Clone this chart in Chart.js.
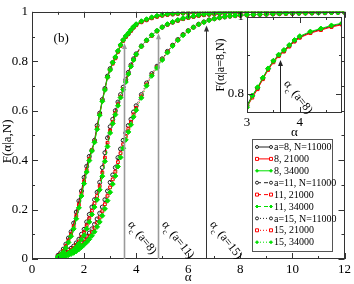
<!DOCTYPE html>
<html>
<head>
<meta charset="utf-8">
<script src="https://cdn.jsdelivr.net/npm/chart.js@4.4.1/dist/chart.umd.min.js"></script>
<style>
  html, body { margin: 0; padding: 0; background: #fff; }
  #wrap { position: relative; width: 354px; height: 284px; }
  #main { position: absolute; left: 0; top: 0; }
  #inset { position: absolute; left: 200px; top: 5px; }
</style>
</head>
<body>
<div id="wrap">
  <canvas id="main" width="354" height="284"></canvas>
  <canvas id="inset" width="148" height="135"></canvas>
</div>
<script>
// alpha grid (shared by all series)
const ALPHA = [
  1.0, 1.1, 1.2, 1.3, 1.4, 1.5, 1.6, 1.7, 1.8, 1.9,
  2.0, 2.1, 2.2, 2.3, 2.4, 2.5, 2.6, 2.7, 2.8, 2.9,
  3.0, 3.1, 3.2, 3.3, 3.4, 3.5, 3.6, 3.7, 3.8, 3.9,
  4.0, 4.2, 4.4, 4.6, 4.8, 5.0, 5.2, 5.4, 5.6, 5.8,
  6.0, 6.2, 6.4, 6.6, 6.8, 7.0, 7.2, 7.4, 7.6, 7.8,
  8.0, 8.25, 8.5, 8.75, 9.0, 9.25, 9.5, 9.75, 10.0,
  10.25, 10.5, 10.75, 11.0, 11.25, 11.5, 11.75, 12.0
];

// a = 8
const F8_11000 = [
  .015, .025, .04, .06, .085, .11, .145, .19, .235, .275,
  .33, .375, .415, .44, .48, .54, .59, .645, .69, .74,
  .77, .795, .815, .84, .865, .885, .90, .912, .925, .938,
  .948, .96, .968, .976, .982, .986, .989, .991, .993, .995,
  .996, .997, .997, .998, .998, .999, .999, .999, .999, 1,
  1, 1, 1, 1, 1, 1, 1, 1, 1,
  1, 1, 1, 1, 1, 1, 1, 1
];
const F8_21000 = [
  .012, .02, .033, .052, .075, .1, .133, .175, .22, .265,
  .315, .36, .405, .44, .475, .53, .585, .64, .685, .735,
  .765, .79, .812, .838, .862, .882, .898, .91, .923, .936,
  .946, .958, .966, .974, .98, .985, .988, .99, .992, .994,
  .995, .996, .997, .997, .998, .998, .999, .999, .999, .999,
  1, 1, 1, 1, 1, 1, 1, 1, 1,
  1, 1, 1, 1, 1, 1, 1, 1
];
const F8_34000 = [
  .01, .017, .028, .045, .067, .092, .122, .163, .207, .255,
  .305, .352, .398, .437, .472, .525, .582, .638, .684, .735,
  .765, .795, .817, .842, .866, .886, .902, .914, .927, .94,
  .95, .962, .97, .978, .984, .988, .991, .993, .995, .996,
  .997, .998, .998, .999, .999, .999, 1, 1, 1, 1,
  1, 1, 1, 1, 1, 1, 1, 1, 1,
  1, 1, 1, 1, 1, 1, 1, 1
];

// a = 11
const F11_11000 = [
  .01, .014, .02, .027, .035, .043, .052, .065, .08, .1,
  .12, .15, .18, .21, .24, .27, .31, .37, .43, .49,
  .535, .565, .6, .635, .665, .695, .725, .755, .785, .81,
  .83, .862, .885, .905, .923, .938, .949, .958, .965, .972,
  .977, .981, .985, .988, .99, .992, .993, .994, .995, .996,
  .997, .997, .998, .998, .998, .999, .999, .999, .999,
  1, 1, 1, 1, 1, 1, 1, 1
];
const F11_21000 = [
  .008, .011, .016, .022, .029, .036, .045, .057, .071, .09,
  .108, .136, .165, .195, .225, .255, .295, .35, .41, .47,
  .52, .555, .59, .625, .657, .688, .718, .749, .78, .805,
  .826, .859, .883, .903, .921, .937, .948, .957, .964, .971,
  .976, .98, .984, .987, .989, .991, .993, .994, .995, .996,
  .996, .997, .997, .998, .998, .998, .999, .999, .999,
  .999, 1, 1, 1, 1, 1, 1, 1
];
const F11_34000 = [
  .006, .009, .013, .018, .024, .03, .038, .049, .062, .079,
  .096, .122, .15, .18, .21, .24, .28, .335, .395, .455,
  .51, .548, .584, .62, .653, .685, .716, .748, .779, .805,
  .827, .86, .885, .905, .923, .938, .95, .959, .967, .974,
  .979, .983, .987, .99, .992, .994, .995, .996, .997, .998,
  .998, .998, .999, .999, .999, .999, 1, 1, 1,
  1, 1, 1, 1, 1, 1, 1, 1
];

// a = 15
const F15_11000 = [
  .005, .008, .012, .018, .025, .031, .038, .046, .055, .067,
  .08, .092, .105, .122, .14, .162, .185, .21, .24, .275,
  .31, .34, .37, .41, .445, .48, .51, .54, .565, .595,
  .62, .665, .712, .75, .78, .81, .84, .865, .888, .908,
  .924, .938, .95, .959, .967, .972, .976, .979, .982, .984,
  .986, .987, .988, .989, .99, .991, .992, .993, .993,
  .994, .995, .995, .996, .996, .997, .997, .998
];
const F15_21000 = [
  .004, .006, .009, .014, .02, .025, .031, .038, .047, .057,
  .069, .08, .093, .108, .125, .146, .168, .193, .222, .256,
  .29, .322, .353, .392, .428, .464, .496, .527, .554, .585,
  .611, .658, .706, .745, .776, .807, .837, .863, .886, .906,
  .923, .937, .949, .958, .966, .971, .975, .979, .982, .984,
  .985, .987, .988, .989, .99, .991, .992, .992, .993,
  .994, .994, .995, .996, .996, .997, .997, .998
];
const F15_34000 = [
  .003, .004, .007, .011, .016, .02, .025, .031, .039, .048,
  .058, .068, .08, .094, .11, .13, .15, .175, .203, .236,
  .27, .303, .336, .374, .411, .448, .482, .514, .543, .575,
  .602, .652, .701, .741, .773, .805, .835, .862, .885, .905,
  .922, .937, .949, .958, .966, .972, .976, .98, .983, .985,
  .987, .988, .989, .99, .991, .992, .993, .994, .994,
  .995, .995, .996, .996, .997, .997, .998, .998
];

const LEGEND_LABELS = [
  'a=8, N=11000', '8, 21000', '8, 34000',
  'a=11, N=11000', '11, 21000', '11, 34000',
  'a=15, N=11000', '15, 21000', '15, 34000'
];

// critical alpha markers
const CRIT_A = ['8', '11', '15'];
const ALPHA_C = [3.55, 4.85, 6.68];
const ARROW_TIP = [0.874, 0.913, 0.945];
const INSET_ALPHA_C = 3.62;
const INSET_ARROW_TIP = 0.888;

const FONT = "'Liberation Serif', serif";
const COLORS = ['#222', '#ff0000', '#00e000'];
const STYLES = ['circle', 'rect', 'rectRot'];
const DASHES = [[], [4, 3], [1, 2]];
const SERIES = [
  [F8_11000, F8_21000, F8_34000],
  [F11_11000, F11_21000, F11_34000],
  [F15_11000, F15_21000, F15_34000]
];

function makeDataset(vals, g, n, radius) {
  return {
    data: ALPHA.map((x, i) => ({ x, y: vals[i] })),
    borderColor: COLORS[n],
    borderWidth: 1,
    borderDash: DASHES[g],
    pointStyle: STYLES[n],
    pointRadius: n === 2 ? radius + 0.5 : radius,
    pointBorderWidth: 1,
    pointBorderColor: COLORS[n],
    pointBackgroundColor: n === 2 ? COLORS[n] : 'rgba(255,255,255,0)',
    tension: 0,
    fill: false,
    order: 3 - n
  };
}

function steps(from, to, step) {
  const out = [];
  for (let v = from; v <= to + 1e-9; v += step) out.push(+v.toFixed(4));
  return out;
}

const fmt = v => String(+(+v).toFixed(2));

// inward ticks on all four sides + frame
const frameTicks = {
  id: 'frameTicks',
  afterDatasetsDraw(chart, args, o) {
    const { ctx, chartArea: a, scales: { x, y } } = chart;
    ctx.save();
    ctx.strokeStyle = '#333';
    ctx.lineWidth = 1;
    ctx.beginPath();
    const vx = (v, len) => {
      const p = Math.round(x.getPixelForValue(v)) + 0.5;
      ctx.moveTo(p, a.bottom); ctx.lineTo(p, a.bottom - len);
      ctx.moveTo(p, a.top); ctx.lineTo(p, a.top + len);
    };
    const vy = (v, len) => {
      const p = Math.round(y.getPixelForValue(v)) + 0.5;
      ctx.moveTo(a.left, p); ctx.lineTo(a.left + len, p);
      ctx.moveTo(a.right, p); ctx.lineTo(a.right - len, p);
    };
    o.xMajor.forEach(v => vx(v, 6));
    o.xMinor.forEach(v => vx(v, 3));
    o.yMajor.forEach(v => vy(v, 6));
    o.yMinor.forEach(v => vy(v, 3));
    ctx.stroke();
    ctx.strokeRect(Math.round(a.left) + 0.5, Math.round(a.top) + 0.5,
      Math.round(a.right - a.left) - 1, Math.round(a.bottom - a.top) - 1);
    ctx.restore();
  }
};

function drawArrow(ctx, x, y0, y1, color, width) {
  ctx.save();
  ctx.strokeStyle = color;
  ctx.fillStyle = color;
  ctx.lineWidth = width;
  ctx.beginPath();
  ctx.moveTo(x, y0);
  ctx.lineTo(x, y1 + 4);
  ctx.stroke();
  ctx.beginPath();
  ctx.moveTo(x, y1);
  ctx.lineTo(x - 2.5, y1 + 6);
  ctx.lineTo(x + 2.5, y1 + 6);
  ctx.closePath();
  ctx.fill();
  ctx.restore();
}

function drawCritLabel(ctx, x, y, a, size) {
  ctx.save();
  ctx.translate(x, y);
  ctx.rotate(0.9);
  ctx.fillStyle = '#000';
  ctx.textBaseline = 'alphabetic';
  ctx.textAlign = 'left';
  ctx.font = `${size}px ${FONT}`;
  ctx.fillText('α', 0, 0);
  const w1 = ctx.measureText('α').width;
  ctx.font = `${Math.round(size * 0.7)}px ${FONT}`;
  ctx.fillText('c', w1, size * 0.35);
  const w2 = ctx.measureText('c').width;
  ctx.font = `${size}px ${FONT}`;
  ctx.fillText(' (a=' + a + ')', w1 + w2, 0);
  ctx.restore();
}

function drawText(ctx, text, x, y, size, rot) {
  ctx.save();
  ctx.translate(x, y);
  if (rot) ctx.rotate(rot);
  ctx.fillStyle = '#000';
  ctx.font = `${size}px ${FONT}`;
  ctx.textAlign = 'center';
  ctx.textBaseline = 'middle';
  ctx.fillText(text, 0, 0);
  ctx.restore();
}

function drawMarker(ctx, style, x, y, r, color, filled) {
  ctx.beginPath();
  if (style === 'circle') ctx.arc(x, y, r, 0, Math.PI * 2);
  else if (style === 'rect') ctx.rect(x - r, y - r, 2 * r, 2 * r);
  else { ctx.moveTo(x, y - r); ctx.lineTo(x + r, y); ctx.lineTo(x, y + r); ctx.lineTo(x - r, y); ctx.closePath(); }
  ctx.fillStyle = filled ? color : '#fff';
  ctx.fill();
  ctx.strokeStyle = color;
  ctx.stroke();
}

const annotations = {
  id: 'annotations',
  afterDraw(chart) {
    const { ctx, chartArea: area, scales: { x, y } } = chart;
    const y0 = y.getPixelForValue(0);
    const arrowColors = ['#9a9a9a', '#9a9a9a', '#333'];
    ALPHA_C.forEach((ac, i) => {
      const px = Math.round(x.getPixelForValue(ac)) + 0.5;
      drawArrow(ctx, px, y0, y.getPixelForValue(ARROW_TIP[i]), arrowColors[i], i < 2 ? 1.6 : 1);
      drawCritLabel(ctx, px + 3, y.getPixelForValue(0.14), CRIT_A[i], 12);
    });

    drawText(ctx, '(b)', x.getPixelForValue(1.12), y.getPixelForValue(0.893), 13);
    drawText(ctx, 'α', (area.left + area.right) / 2, 278, 13);
    drawText(ctx, 'F(α|a,N)', 8, (area.top + area.bottom) / 2 + 6, 13, -Math.PI / 2);

    // legend box
    const bx = 252, by = 139, bw = 80, bh = 112, row = 11.9;
    ctx.save();
    ctx.fillStyle = '#fff';
    ctx.fillRect(bx, by, bw, bh);
    ctx.strokeStyle = '#555';
    ctx.lineWidth = 1;
    ctx.strokeRect(bx + 0.5, by + 0.5, bw, bh);
    ctx.font = `10px ${FONT}`;
    ctx.textBaseline = 'middle';
    ctx.textAlign = 'left';
    LEGEND_LABELS.forEach((label, k) => {
      const g = Math.floor(k / 3), n = k % 3;
      const ly = by + 8 + k * row;
      ctx.strokeStyle = COLORS[n];
      ctx.lineWidth = 1;
      ctx.setLineDash(DASHES[g]);
      ctx.beginPath();
      ctx.moveTo(257, ly); ctx.lineTo(271, ly);
      ctx.stroke();
      ctx.setLineDash([]);
      drawMarker(ctx, STYLES[n], 257, ly, 1.5, COLORS[n], n === 2);
      drawMarker(ctx, STYLES[n], 271, ly, 1.5, COLORS[n], n === 2);
      ctx.fillStyle = '#000';
      ctx.fillText(label, 274, ly + 0.5);
    });
    ctx.restore();
  }
};

const mainDatasets = [];
SERIES.forEach((group, g) => group.forEach((vals, n) => mainDatasets.push(makeDataset(vals, g, n, 2))));

new Chart(document.getElementById('main'), {
  type: 'line',
  data: { datasets: mainDatasets },
  options: {
    responsive: false,
    animation: false,
    devicePixelRatio: 1,
    layout: { padding: { top: 6, right: 7, left: 0, bottom: 0 } },
    plugins: {
      legend: { display: false },
      tooltip: { enabled: false },
      frameTicks: {
        xMajor: steps(0, 12, 2), xMinor: steps(1, 11, 2),
        yMajor: steps(0, 1, 0.2), yMinor: steps(0.1, 0.9, 0.2)
      }
    },
    scales: {
      x: {
        type: 'linear', min: 0, max: 12,
        grid: { display: false, drawTicks: false },
        border: { display: false },
        ticks: { stepSize: 2, color: '#000', padding: 3, maxRotation: 0, font: { family: FONT, size: 13 } },
        afterFit(s) { s.height = 25; }
      },
      y: {
        min: 0, max: 1,
        grid: { display: false, drawTicks: false },
        border: { display: false },
        ticks: { stepSize: 0.2, color: '#000', padding: 4, callback: fmt, font: { family: FONT, size: 13 } },
        afterFit(s) { s.width = 32; }
      }
    }
  },
  plugins: [frameTicks, annotations]
});

// inset: a = 8 close-up
const insetDecor = {
  id: 'insetDecor',
  beforeDatasetsDraw(chart) {
    const { ctx, chartArea: a } = chart;
    ctx.save();
    ctx.fillStyle = '#fff';
    ctx.fillRect(a.left, a.top, a.right - a.left, a.bottom - a.top);
    ctx.restore();
  },
  afterDraw(chart) {
    const { ctx, chartArea: area, scales: { x, y } } = chart;
    const px = Math.round(x.getPixelForValue(INSET_ALPHA_C)) + 0.5;
    drawArrow(ctx, px, y.getPixelForValue(0.75), y.getPixelForValue(INSET_ARROW_TIP), '#222', 1);
    drawCritLabel(ctx, px + 3, y.getPixelForValue(0.826), '8', 12);
    drawText(ctx, 'α', (area.left + area.right) / 2, 128, 13);
    drawText(ctx, 'F(α|a=8,N)', 21, (area.top + area.bottom) / 2, 12, -Math.PI / 2);
  }
};

new Chart(document.getElementById('inset'), {
  type: 'line',
  data: { datasets: SERIES[0].map((vals, n) => makeDataset(vals, 0, n, 2)) },
  options: {
    responsive: false,
    animation: false,
    devicePixelRatio: 1,
    layout: { padding: { top: 12, right: 6, left: 14, bottom: 0 } },
    plugins: {
      legend: { display: false },
      tooltip: { enabled: false },
      frameTicks: {
        xMajor: [3, 4], xMinor: [3.5, 4.5],
        yMajor: [0.8, 1], yMinor: [0.9]
      }
    },
    scales: {
      x: {
        type: 'linear', min: 3, max: 4.8,
        grid: { display: false, drawTicks: false },
        border: { display: false },
        ticks: { color: '#000', padding: 2, maxRotation: 0, callback: fmt, font: { family: FONT, size: 13 } },
        afterBuildTicks(s) { s.ticks = [{ value: 3 }, { value: 4 }]; },
        afterFit(s) { s.height = 27; }
      },
      y: {
        type: 'linear', min: 0.75, max: 1,
        grid: { display: false, drawTicks: false },
        border: { display: false },
        ticks: { color: '#000', padding: 3, callback: fmt, font: { family: FONT, size: 13 } },
        afterBuildTicks(s) { s.ticks = [{ value: 0.8 }, { value: 1 }]; },
        afterFit(s) { s.width = 33; }
      }
    }
  },
  plugins: [insetDecor, frameTicks]
});
</script>
</body>
</html>
